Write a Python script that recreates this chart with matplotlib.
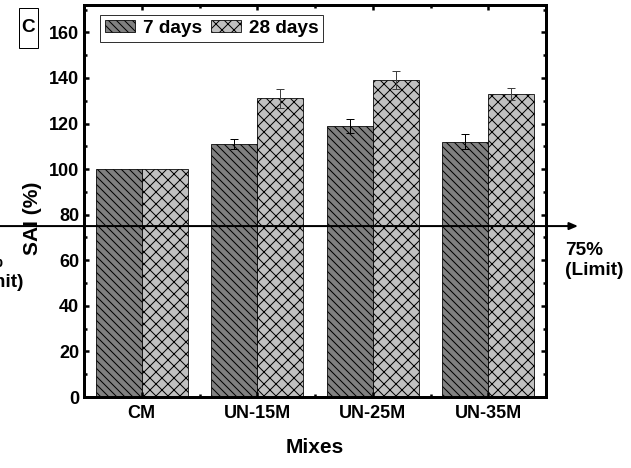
import numpy as np
import matplotlib
matplotlib.use("Agg")
import matplotlib.pyplot as plt
from matplotlib.ticker import MultipleLocator
from matplotlib.patches import Rectangle
from matplotlib.transforms import blended_transform_factory

plt.rcParams['font.family'] = ['Liberation Sans', 'DejaVu Sans']
plt.rcParams['font.weight'] = 'bold'
plt.rcParams['hatch.linewidth'] = 1.0

# data
mixes = ['CM', 'UN-15M', 'UN-25M', 'UN-35M']
sai_7d = [100, 111, 119, 112]
err_7d = [0, 2.2, 3.0, 3.3]
sai_28d = [100, 131, 139, 133]
err_28d = [0, 4.0, 4.0, 2.7]
limit = 75

W, H = 631, 468
fig = plt.figure(figsize=(W / 72, H / 72), dpi=72)
ax = fig.add_axes([84 / W, 1 - 397 / H, 462 / W, 392 / H])

x = np.arange(len(mixes))
w = 0.4
ax.bar(x - w / 2, sai_7d, w, color='#808080', edgecolor='black', linewidth=0.8,
       hatch='\\\\\\', label='7 days')
ax.bar(x + w / 2, sai_28d, w, color='#c0c0c0', edgecolor='black', linewidth=0.8,
       hatch='xx', label='28 days')
ax.errorbar(x[1:] - w / 2, sai_7d[1:], yerr=err_7d[1:], fmt='none', ecolor='black',
            elinewidth=1, capsize=4, capthick=1)
ax.errorbar(x[1:] + w / 2, sai_28d[1:], yerr=err_28d[1:], fmt='none', ecolor='#404040',
            elinewidth=1, capsize=4, capthick=1)

ax.set_xlim(-0.5, 3.5)
ax.set_ylim(0, 172)
ax.set_xticks(x)
ax.set_xticklabels(mixes)
ax.xaxis.set_minor_locator(MultipleLocator(0.5))
ax.yaxis.set_major_locator(MultipleLocator(20))
ax.yaxis.set_minor_locator(MultipleLocator(10))
ax.tick_params(which='both', direction='in', top=True, right=True, width=2.5)
ax.tick_params(which='major', length=5, labelsize=18)
ax.tick_params(which='minor', length=3)
ax.tick_params(axis='x', pad=8)
ax.tick_params(axis='y', pad=5)
for s in ax.spines.values():
    s.set_linewidth(3)

ax.set_ylabel('SAI (%)', fontsize=21, fontweight='bold')
ax.yaxis.set_label_coords(-0.09, 0.457)
ax.set_xlabel('Mixes', fontsize=21, fontweight='bold')
ax.xaxis.set_label_coords(0.5, -0.105)

leg = ax.legend(loc='upper left', bbox_to_anchor=(0.035, 0.974), borderaxespad=0,
                ncol=2, fontsize=19, frameon=True, fancybox=False, edgecolor='black',
                handlelength=1.6, handleheight=0.55, handletextpad=0.4,
                columnspacing=0.45, borderpad=0.25)
leg.get_frame().set_linewidth(1)

# 75 % limit arrow, running from the left edge of the figure past the axes
tr = blended_transform_factory(fig.transFigure, ax.transData)
ax.annotate('', xy=(578 / W, limit), xytext=(0, limit), xycoords=tr, textcoords=tr,
            arrowprops=dict(arrowstyle='-|>,head_length=0.7,head_width=0.3',
                            color='black', lw=2, shrinkA=0, shrinkB=0),
            annotation_clip=False)
fig.text(565 / W, 1 - 242 / H, '75%\n(Limit)', fontsize=19, fontweight='bold',
         ha='left', va='top', linespacing=1.2)
# the neighbouring panel's label, cut off at the left edge as in the original
fig.text(-35 / W, 1 - 254 / H, '75%\n(Limit)', fontsize=19, fontweight='bold',
         ha='left', va='top', linespacing=1.2)

# panel letter
fig.patches.append(Rectangle((19 / W, 1 - 48 / H), 19 / W, 40 / H, transform=fig.transFigure,
                             fill=False, edgecolor='black', linewidth=1))
fig.text(28.5 / W, 1 - 28 / H, 'C', fontsize=19, fontweight='bold', ha='center', va='center')

fig.savefig('out.png', dpi=72)
